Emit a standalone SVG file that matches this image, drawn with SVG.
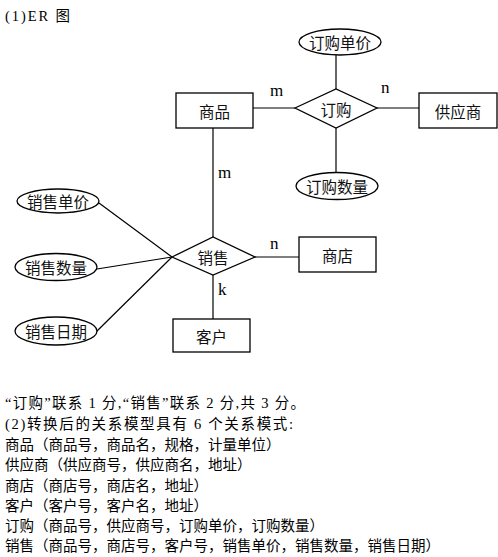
<svg xmlns="http://www.w3.org/2000/svg" width="498" height="557" viewBox="0 0 498 557">
<style>
.s{fill:#fff;stroke:#000;stroke-width:1.3}
.c{stroke:#000;stroke-width:1.2;fill:none}
.t{font-family:"Noto Sans CJK SC","Noto Sans CJK JP",sans-serif;font-size:15.5px;fill:#111;text-anchor:middle;dominant-baseline:central}
.l{font-family:"Liberation Serif",serif;font-size:17px;fill:#000}
.p{font-family:"Liberation Serif","Noto Sans CJK SC",serif;font-size:14.5px;fill:#000}
</style>
<rect width="498" height="557" fill="#fff"/>
<text class="p" x="5" y="21" textLength="65" lengthAdjust="spacing">(1)ER 图</text>
<g id="connectors">
<line class="c" x1="253" y1="108" x2="295" y2="108"/>
<line class="c" x1="377" y1="108" x2="419" y2="108"/>
<line class="c" x1="336" y1="55" x2="336" y2="89"/>
<line class="c" x1="336" y1="128" x2="336" y2="173"/>
<line class="c" x1="213" y1="128" x2="213" y2="237"/>
<line class="c" x1="255" y1="257" x2="299" y2="257"/>
<line class="c" x1="213" y1="275" x2="213" y2="319"/>
<line class="c" x1="99" y1="203" x2="172" y2="257"/>
<line class="c" x1="97" y1="269" x2="172" y2="257"/>
<line class="c" x1="95" y1="333" x2="172" y2="257"/>
<text class="l" x="270" y="96">m</text>
<text class="l" x="381" y="93">n</text>
<text class="l" x="218" y="178">m</text>
<text class="l" x="270" y="249">n</text>
<text class="l" x="218" y="295">k</text>
</g>
<g id="shangpin"><rect class="s" x="176" y="93" width="77" height="35"/><text class="t" x="214.5" y="110.5">商品</text></g>
<g id="dinggou"><polygon class="s" points="295,108 336,89 377,108 336,128"/><text class="t" x="336" y="108.5">订购</text></g>
<g id="gongyingshang"><rect class="s" x="419" y="93" width="78" height="35"/><text class="t" x="458" y="110.5">供应商</text></g>
<g id="dinggoudanjia"><ellipse class="s" cx="340" cy="42" rx="41" ry="13"/><text class="t" x="340" y="42">订购单价</text></g>
<g id="dinggoushuliang"><ellipse class="s" cx="337" cy="186" rx="41" ry="13.5"/><text class="t" x="337" y="186">订购数量</text></g>
<g id="xiaoshou"><polygon class="s" points="172,257 213,237 255,257 213,275"/><text class="t" x="213" y="256.5">销售</text></g>
<g id="shangdian"><rect class="s" x="299" y="237" width="77" height="35"/><text class="t" x="337.5" y="254.5">商店</text></g>
<g id="kehu"><rect class="s" x="173" y="319" width="77" height="33"/><text class="t" x="211.5" y="335.5">客户</text></g>
<g id="xiaoshoudanjia"><ellipse class="s" cx="58" cy="201" rx="41" ry="12"/><text class="t" x="58" y="201">销售单价</text></g>
<g id="xiaoshoushuliang"><ellipse class="s" cx="56" cy="267" rx="41" ry="13.5"/><text class="t" x="56" y="267">销售数量</text></g>
<g id="xiaoshouriqi"><ellipse class="s" cx="56" cy="331" rx="41" ry="14"/><text class="t" x="56" y="331">销售日期</text></g>
<g id="notes">
<text class="p" x="5" y="408" textLength="300" lengthAdjust="spacing">“订购”联系 1 分,“销售”联系 2 分,共 3 分。</text>
<text class="p" x="5" y="429" textLength="288" lengthAdjust="spacing">(2)转换后的关系模型具有 6 个关系模式:</text>
<text class="p" x="5" y="450">商品（商品号，商品名，规格，计量单位）</text>
<text class="p" x="5" y="470">供应商（供应商号，供应商名，地址）</text>
<text class="p" x="5" y="491">商店（商店号，商店名，地址）</text>
<text class="p" x="5" y="511">客户（客户号，客户名，地址）</text>
<text class="p" x="5" y="531">订购（商品号，供应商号，订购单价，订购数量）</text>
<text class="p" x="5" y="551">销售（商品号，商店号，客户号，销售单价，销售数量，销售日期）</text>
</g>
</svg>
